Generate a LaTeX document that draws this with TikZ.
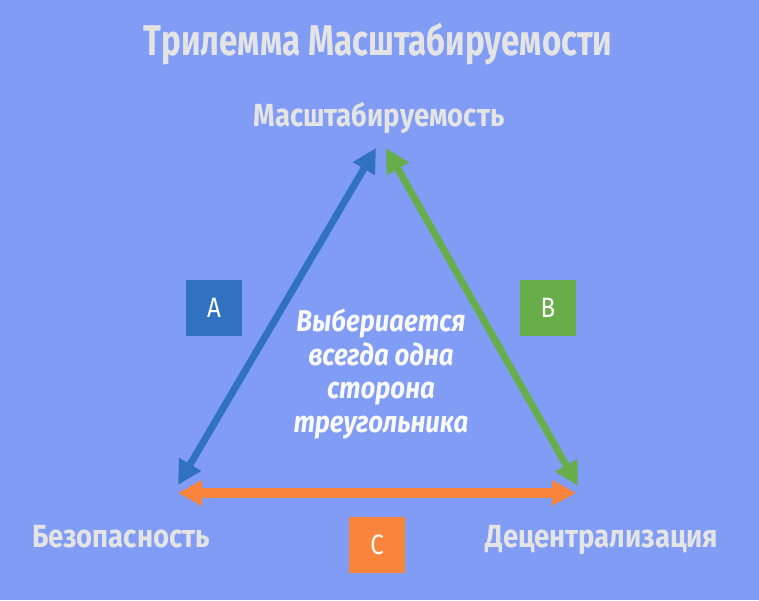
\documentclass[tikz,border=0pt]{standalone}
\usepackage{fontspec}
\setmainfont{Fira Sans}[FakeStretch=0.86]
\newfontfamily\titlefont{Fira Sans}[FakeStretch=0.77]
\usetikzlibrary{arrows.meta}
\definecolor{bgblue}{HTML}{809CF4}
\definecolor{labelgray}{HTML}{E4E4E4}
\definecolor{sideA}{HTML}{3072C0}
\definecolor{sideB}{HTML}{67AE4B}
\definecolor{sideC}{HTML}{F9843B}
\begin{document}
\begin{tikzpicture}[x=1pt,y=-1pt,
   lbl/.style={text=labelgray,font=\bfseries\fontsize{32}{32}\selectfont},
   tag/.style={minimum size=56pt,inner sep=0pt,text=white,
               font=\fontsize{28}{28}\selectfont},
   side/.style={line width=7pt,
               {Triangle[length=24pt,width=24pt]}-{Triangle[length=24pt,width=24pt]}}]

\fill[bgblue] (0,0) rectangle (759,600);

\node[lbl,font=\titlefont\bfseries\fontsize{43}{43}\selectfont] (title) at (378,44)
   {Трилемма Масштабируемости};
\node[lbl] (scal) at (379,118) {Масштабируемость};
\node[lbl] (secu) at (121,537) {Безопасность};
\node[lbl] (dece) at (602,540) {Децентрализация};

\coordinate (topA) at (376,148);
\coordinate (topB) at (386,148);
\coordinate (botA) at (178,485);
\coordinate (botB) at (578,486);
\coordinate (leftC) at (178,493);
\coordinate (rightC) at (576,493);

\draw[side,sideA] (botA) -- (topA);
\draw[side,sideB] (topB) -- (botB);
\draw[side,sideC,line width=10pt] (leftC) -- (rightC);

\node[tag,fill=sideA] (A) at (214,308) {A};
\node[tag,fill=sideB] (B) at (548,308) {B};
\node[tag,fill=sideC] (C) at (377,545) {C};

\node[align=center,text=white!95!gray,
      font=\bfseries\itshape\fontsize{30}{33.5}\selectfont] (note) at (381,374)
   {Выбериается\\всегда одна\\сторона\\треугольника};

\end{tikzpicture}
\end{document}
